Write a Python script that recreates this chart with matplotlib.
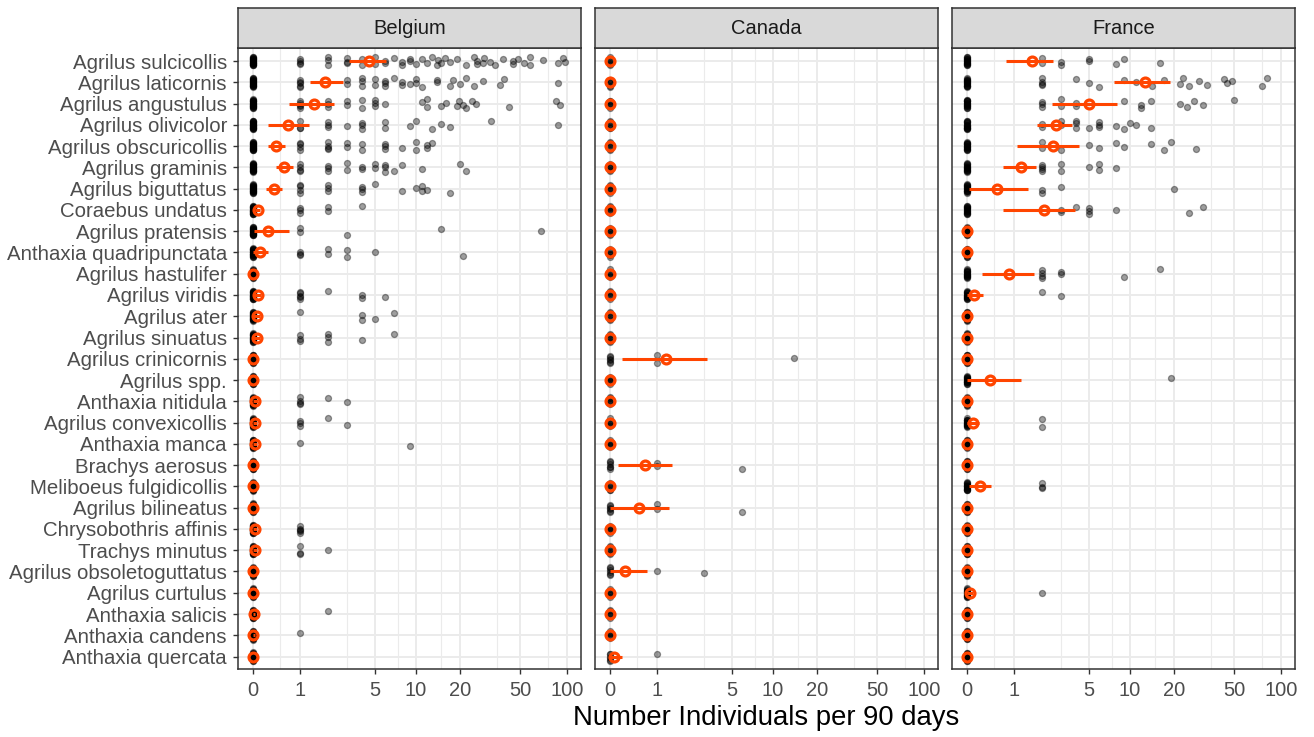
import numpy as np
import matplotlib
matplotlib.use("Agg")
import matplotlib.pyplot as plt
from matplotlib.ticker import FixedLocator, NullFormatter

plt.rcParams['font.family'] = ['Liberation Sans', 'DejaVu Sans']

species = [
    "Agrilus sulcicollis", "Agrilus laticornis", "Agrilus angustulus",
    "Agrilus olivicolor", "Agrilus obscuricollis", "Agrilus graminis",
    "Agrilus biguttatus", "Coraebus undatus", "Agrilus pratensis",
    "Anthaxia quadripunctata", "Agrilus hastulifer", "Agrilus viridis",
    "Agrilus ater", "Agrilus sinuatus", "Agrilus crinicornis", "Agrilus spp.",
    "Anthaxia nitidula", "Agrilus convexicollis", "Anthaxia manca",
    "Brachys aerosus", "Meliboeus fulgidicollis", "Agrilus bilineatus",
    "Chrysobothris affinis", "Trachys minutus", "Agrilus obsoletoguttatus",
    "Agrilus curtulus", "Anthaxia salicis", "Anthaxia candens",
    "Anthaxia quercata",
]
countries = ["Belgium", "Canada", "France"]

# non-zero trap counts (individuals per 90 days), one list per species
belgium_counts = [
    [1, 1, 1, 1, 2, 2, 2, 3, 3, 3, 4, 4, 5, 5, 6, 6, 7, 8, 8, 9, 9, 10, 11, 12, 13,
     13.9, 14.3, 14.8, 15.9, 17.2, 19, 22, 24.8, 26, 26, 28.6, 29, 31.6, 34, 38.7,
     44.5, 45, 48.5, 52.7, 57.7, 57.7, 70, 88, 94.7, 97],
    [1, 1, 1, 1, 1, 3, 3, 4, 4, 4, 5, 5, 6, 6, 6, 7, 8, 8, 9, 10, 10, 11, 14, 14, 17,
     18, 20, 22, 24.8, 28.6, 36.6, 39, 88],
    [1, 1, 1, 1, 1, 2, 2, 2, 3, 3, 4, 4, 5, 5, 5, 6, 11, 12, 12, 15, 16, 19, 19.6,
     21, 22, 24, 25.6, 42, 85, 90],
    [1, 1, 1, 2, 2, 2, 3, 4, 4, 4, 6, 6, 9, 10, 13, 15, 17, 32, 87],
    [1, 1, 1, 1, 2, 2, 2, 2, 3, 3, 4, 4, 6, 6, 6, 8, 10, 10, 12, 12, 13],
    [1, 1, 1, 1, 2, 2, 2, 3, 3, 4, 4, 5, 5, 6, 6, 6, 7, 8, 11, 20, 22],
    [1, 1, 1, 1, 2, 2, 2, 4, 4, 4, 5, 8, 10, 11, 11, 12, 17],
    [1, 1, 1, 2, 2, 4],
    [1, 1, 3, 15, 68],
    [1, 1, 1, 2, 2, 3, 3, 5, 21],
    [],
    [1, 1, 1, 1, 1, 2, 4, 4, 6],
    [1, 4, 4, 5, 7],
    [1, 1, 1, 2, 2, 2, 4, 7],
    [],
    [],
    [1, 1, 1, 1, 2, 3],
    [1, 1, 1, 2, 3],
    [1, 9],
    [],
    [],
    [],
    [1, 1, 1, 1, 1],
    [1, 1, 1, 2],
    [],
    [],
    [2],
    [1],
    [],
]
belgium_mean = [4.53, 1.90, 1.45, 0.67, 0.415, 0.58, 0.36, 0.076, 0.26, 0.12, 0,
                0.076, 0.07, 0.07, 0, 0, 0.04, 0.03, 0.03, 0, 0, 0, 0.03, 0.03,
                0, 0, 0.02, 0.01, 0]
belgium_lo = [3.09, 1.31, 0.70, 0.26, 0.26, 0.41, 0.22, 0.03, 0.025, 0.0, 0,
              0.02, 0.01, 0.01, 0, 0, 0, 0, 0, 0, 0, 0, 0, 0, 0, 0, 0, 0, 0]
belgium_hi = [6.06, 2.76, 2.28, 1.27, 0.60, 0.81, 0.54, 0.12, 0.70, 0.25, 0,
              0.13, 0.12, 0.12, 0, 0, 0.08, 0.07, 0.06, 0, 0, 0, 0.06, 0.06,
              0, 0, 0.04, 0.03, 0]

canada_counts = [[] for _ in species]
canada_counts[14] = [1, 1, 13.9]
canada_counts[19] = [1, 1, 6]
canada_counts[21] = [1, 1, 6]
canada_counts[24] = [1, 3]
canada_counts[28] = [1]
canada_mean = [0] * 14 + [1.27, 0, 0, 0, 0, 0.67, 0, 0.54, 0, 0, 0.26, 0, 0, 0, 0.06]
canada_lo = [0] * 14 + [0.20, 0, 0, 0, 0, 0.13, 0, 0.0, 0, 0, 0.0, 0, 0, 0, 0.0]
canada_hi = [0] * 14 + [3.17, 0, 0, 0, 0, 1.50, 0, 1.39, 0, 0, 0.73, 0, 0, 0, 0.19]

france_counts = [
    [2, 2, 3, 3, 5, 5, 8, 9, 16],
    [2, 2, 2, 2, 4, 5, 6, 9, 11, 14.2, 17.1, 22, 23, 25, 29.2, 33, 43, 45, 48,
     75, 81],
    [2, 2, 2, 3, 3, 4, 4, 9, 12, 12, 14, 22, 24.5, 27, 31, 50],
    [2, 2, 3, 3, 4, 4, 4, 5, 6, 6, 6, 8, 9, 10, 11, 14],
    [2, 2, 3, 5, 6, 8, 9, 14, 17, 19, 28],
    [2, 2, 2, 2, 3, 3, 5, 6, 6, 8],
    [2, 2, 3, 20],
    [3, 3, 4, 5, 5, 5, 8, 25, 31],
    [],
    [],
    [2, 2, 2, 2, 3, 3, 9, 16],
    [2, 3],
    [],
    [],
    [],
    [19],
    [],
    [2, 2],
    [],
    [],
    [2, 2, 2],
    [],
    [],
    [],
    [],
    [2],
    [],
    [],
    [],
]
france_mean = [1.62, 12.7, 5.0, 2.69, 2.55, 1.21, 0.57, 2.11, 0, 0, 0.86, 0.12, 0,
               0, 0, 0.41, 0, 0.097, 0, 0, 0.22, 0, 0, 0, 0, 0.045, 0, 0, 0]
france_lo = [0.77, 7.7, 2.48, 1.82, 1.08, 0.70, 0.03, 0.70, 0, 0, 0.25, 0.0, 0,
             0, 0, 0.0, 0, 0.0, 0, 0, 0.03, 0, 0, 0, 0, 0.0, 0, 0, 0]
france_hi = [2.55, 18.7, 8.1, 3.67, 4.19, 1.78, 1.47, 3.9, 0, 0, 1.69, 0.27, 0,
             0, 0, 1.21, 0, 0.2, 0, 0, 0.42, 0, 0, 0, 0, 0.1, 0, 0, 0]

# number of zero-catch samples per species in each country
n_zeros = [20, 6, 15]

major_breaks = [0, 1, 5, 10, 20, 50, 100]
minor_breaks = [0.5, 3, 7.5, 15, 35, 75]

panel_data = [
    (belgium_counts, belgium_mean, belgium_lo, belgium_hi),
    (canada_counts, canada_mean, canada_lo, canada_hi),
    (france_counts, france_mean, france_lo, france_hi),
]

# vertical jitter pattern (fraction of a row)
jit = np.array([0.0, 0.15, -0.12, 0.07, -0.18, 0.19, -0.04, 0.11, -0.16, 0.03,
                -0.08, 0.17, -0.2, 0.13, -0.01, 0.09, -0.14, 0.05, 0.2, -0.1])


def fwd(x):
    return np.log10(np.asarray(x, dtype=float) + 1)


def inv(y):
    return 10 ** np.asarray(y, dtype=float) - 1


W, H = 1314, 737
fig = plt.figure(figsize=(W / 100, H / 100), dpi=100)

panel_left = [238, 595, 952]
panel_w = 343
panel_top, panel_bot = 48.3, 669.3
strip_top = 8

orange = "#FF4500"
grid_col = "#EBEBEB"
frame_col = "#333333"

for k, (country, (counts, mean, lo, hi)) in enumerate(zip(countries, panel_data)):
    ax = fig.add_axes([panel_left[k] / W, (H - panel_bot) / H, panel_w / W,
                       (panel_bot - panel_top) / H])
    ax.set_xscale("function", functions=(fwd, inv))
    ax.set_xlim(inv(-0.094), inv(2.094))
    ax.set_ylim(len(species) - 1 + 0.6, -0.6)

    ax.xaxis.set_major_locator(FixedLocator(major_breaks))
    ax.xaxis.set_minor_locator(FixedLocator(minor_breaks))
    ax.xaxis.set_minor_formatter(NullFormatter())
    ax.set_xticklabels([str(b) for b in major_breaks])
    ax.set_yticks(range(len(species)))

    for b in major_breaks:
        ax.axvline(b, color=grid_col, lw=1.4, zorder=0)
    for b in minor_breaks:
        ax.axvline(b, color=grid_col, lw=0.8, zorder=0)
    for i in range(len(species)):
        ax.axhline(i, color=grid_col, lw=1.4, zorder=0)

    for i, vals in enumerate(counts):
        xs = np.array([0.0] * n_zeros[k] + list(vals))
        offs = np.roll(jit, i * 3)
        ys = i + offs[np.arange(len(xs)) % len(jit)]
        ax.scatter(xs, ys, s=19, facecolors=(0, 0, 0, 0.38),
                   edgecolors=(0, 0, 0, 0.38), linewidths=0.9, zorder=2)

    for i in range(len(species)):
        ax.plot([lo[i], hi[i]], [i, i], color=orange, lw=2.2,
                solid_capstyle="butt", zorder=3)
    ax.plot(mean, range(len(species)), ls="none", marker="o", ms=6.4,
            mfc="none", mec=orange, mew=2.3, zorder=4)

    for sp in ax.spines.values():
        sp.set_color(frame_col)
        sp.set_linewidth(1.1)
    ax.tick_params(axis="x", which="major", length=3.5, width=1.0,
                   color=frame_col, labelsize=14.5, labelcolor="#4D4D4D", pad=5)
    ax.tick_params(axis="x", which="minor", length=0)
    if k == 0:
        ax.set_yticklabels(species)
        ax.tick_params(axis="y", length=3.5, width=1.0, color=frame_col,
                       labelsize=14.7, labelcolor="#4D4D4D", pad=4.5)
    else:
        ax.tick_params(axis="y", length=0, labelleft=False)

    # facet strip
    sax = fig.add_axes([panel_left[k] / W, (H - panel_top) / H, panel_w / W,
                        (panel_top - strip_top) / H])
    sax.set_facecolor("#D9D9D9")
    sax.set_xticks([])
    sax.set_yticks([])
    for sp in sax.spines.values():
        sp.set_color(frame_col)
        sp.set_linewidth(1.1)
    sax.text(0.5, 0.5, country, ha="center", va="center", fontsize=14.5,
             color="#1A1A1A", transform=sax.transAxes)

fig.text((238 + 1295) / 2 / W, 1 - 718 / H, "Number Individuals per 90 days",
         ha="center", va="center", fontsize=19.8, color="black")

fig.savefig("out.png", dpi=100)
